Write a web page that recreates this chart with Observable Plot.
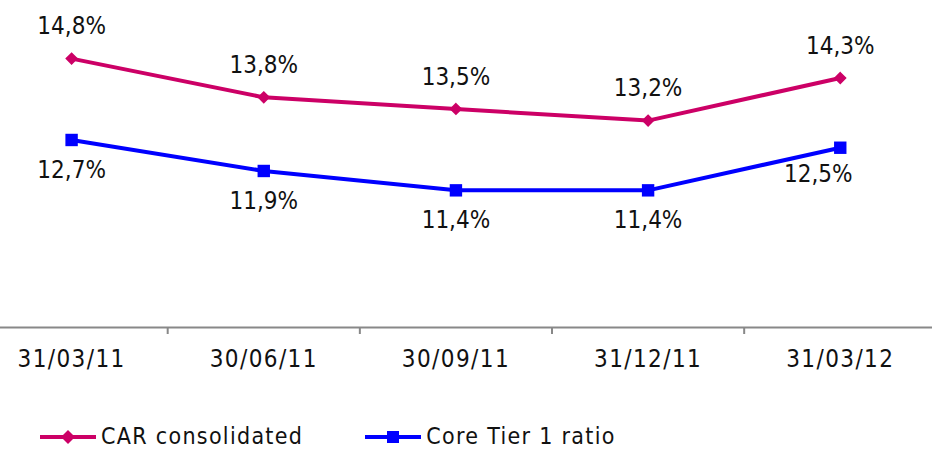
<!DOCTYPE html>
<html><head><meta charset="utf-8">
<script src="https://cdn.jsdelivr.net/npm/d3@7"></script>
<script src="https://cdn.jsdelivr.net/npm/@observablehq/plot@0.6"></script>
<style>
body{margin:0;background:#fff;font-family:"DejaVu Sans Condensed","DejaVu Sans",sans-serif;overflow:hidden;}
#chart svg{display:block;}
#legend{display:flex;align-items:center;height:27px;margin-top:3px;padding-left:40px;font-size:23px;line-height:27px;letter-spacing:1.3px;color:#111;white-space:nowrap;}
.item{display:flex;align-items:center;margin-right:62px;}
.item svg{margin-right:5px;display:block;}
.xlab text{letter-spacing:1.4px;}
</style></head><body><div id="chart"></div><div id="legend"></div>
<script>
const categories = ["31/03/11","30/06/11","30/09/11","31/12/11","31/03/12"];
const carValues = [14.8,13.8,13.5,13.2,14.3];
const coreValues = [12.7,11.9,11.4,11.4,12.5];
const seriesNames = ["CAR consolidated","Core Tier 1 ratio"];
const seriesColors = ["#CC0066","#0000FF"];
const seriesSymbols = ["diamond2","square"];

const fmt = v => v.toFixed(1).replace(".", ",") + "%";
const car = categories.map((c,i)=>({i, category:c, value:carValues[i]}));
const core = categories.map((c,i)=>({i, category:c, value:coreValues[i]}));
const idx = categories.map((c,i)=>i);
const boundaries = idx.slice(1).map(i=>i-0.5);
const yMin = 7.86;

const plot = Plot.plot({
  width: 932, height: 420,
  marginLeft: 0, marginRight: 0, marginTop: 0, marginBottom: 93,
  style: {fontSize: "24px", fontFamily: '"DejaVu Sans Condensed","DejaVu Sans",sans-serif', color: "#111", background: "#fff"},
  x: {domain: [-0.37, 4.48], label: null},
  y: {domain: [yMin, 16.3], axis: null},
  marks: [
    Plot.ruleY([yMin], {stroke: "#888", strokeWidth: 2}),
    Plot.axisX(boundaries, {tickFormat: () => "", tickSize: 7, stroke: "#888", strokeWidth: 2, label: null}),
    Plot.axisX(idx, {tickFormat: i => categories[i], tickSize: 0, tickPadding: 22, fill: "#111", fontSize: 24, label: null, className: "xlab"}),
    Plot.line(car, {x: "i", y: "value", stroke: seriesColors[0], strokeWidth: 4}),
    Plot.dot(car, {x: "i", y: "value", symbol: seriesSymbols[0], r: 4.8, fill: seriesColors[0], stroke: seriesColors[0], strokeWidth: 1.5}),
    Plot.line(core, {x: "i", y: "value", stroke: seriesColors[1], strokeWidth: 4}),
    Plot.dot(core, {x: "i", y: "value", symbol: seriesSymbols[1], r: 7, fill: seriesColors[1]}),
    Plot.text(car, {x: "i", y: "value", text: d => fmt(d.value), dy: -32, fill: "#111", fontSize: 24}),
    Plot.text(core.slice(0, -1), {x: "i", y: "value", text: d => fmt(d.value), dy: 30, fill: "#111", fontSize: 24}),
    Plot.text(core.slice(-1), {x: "i", y: "value", text: d => fmt(d.value), dy: 27, dx: -22, fill: "#111", fontSize: 24})
  ]
});
document.getElementById("chart").appendChild(plot);

const legend = document.getElementById("legend");
seriesNames.forEach((name, k) => {
  const item = document.createElement("div");
  item.className = "item";
  const sym = k === 0
    ? `<path d="M28,3 L35,10 L28,17 L21,10 Z" fill="${seriesColors[k]}"/>`
    : `<rect x="22" y="4" width="12" height="12" fill="${seriesColors[k]}"/>`;
  item.innerHTML = `<svg width="56" height="20"><line x1="0" x2="56" y1="10" y2="10" stroke="${seriesColors[k]}" stroke-width="4"/>${sym}</svg><span>${name}</span>`;
  legend.appendChild(item);
});
</script>
</body></html>
